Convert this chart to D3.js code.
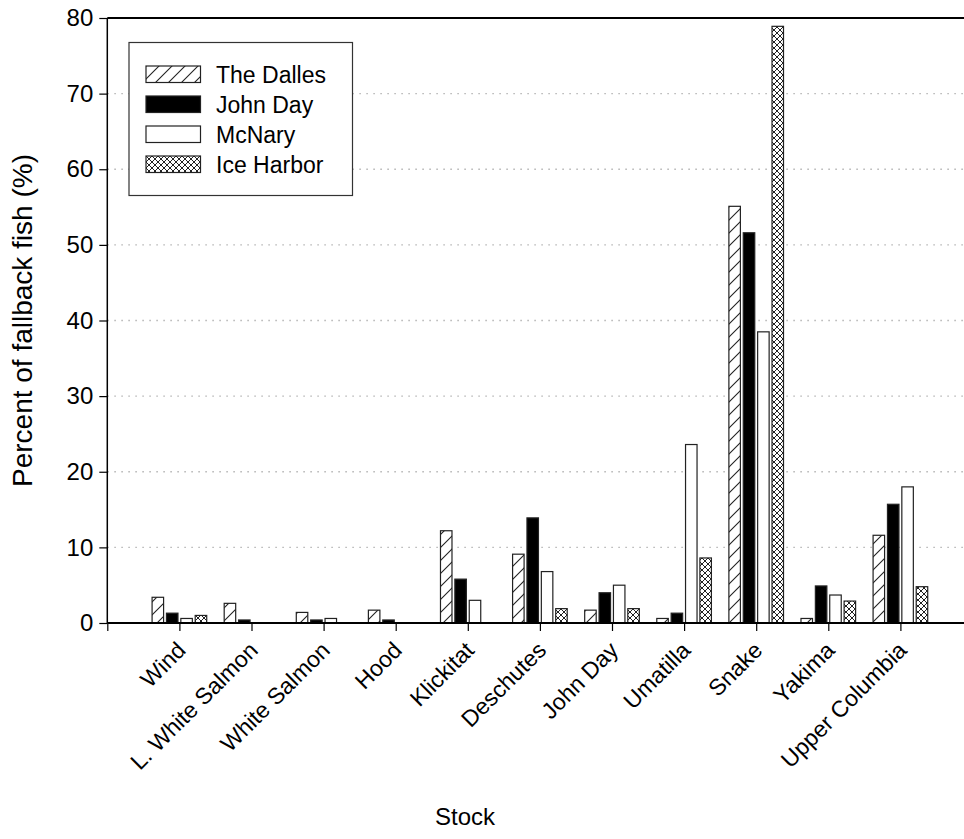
<!DOCTYPE html>
<html>
<head>
<meta charset="utf-8">
<script src="https://cdn.jsdelivr.net/npm/d3@7"></script>
<style>
  html, body { margin: 0; padding: 0; background: #fff; }
  svg { display: block; font-family: "Liberation Sans", Arial, sans-serif; }
</style>
</head>
<body>
<svg id="chart" width="964" height="839"></svg>
<script>
// Fallback percentages by stock, one array per dam
const stocks = ["Wind", "L. White Salmon", "White Salmon", "Hood", "Klickitat", "Deschutes",
                "John Day", "Umatilla", "Snake", "Yakima", "Upper Columbia"];
const dams = ["The Dalles", "John Day", "McNary", "Ice Harbor"];
const theDalles = [3.4, 2.6, 1.4, 1.7, 12.2, 9.1, 1.7, 0.6, 55.1, 0.6, 11.6];
const johnDay   = [1.3, 0.4, 0.4, 0.4, 5.8, 13.9, 4.0, 1.3, 51.6, 4.9, 15.7];
const mcNary    = [0.6, 0, 0.6, 0, 3.0, 6.8, 5.0, 23.6, 38.5, 3.7, 18.0];
const iceHarbor = [1.0, 0, 0, 0, 0, 1.9, 1.9, 8.6, 78.9, 2.9, 4.8];
const yTicks = [0, 10, 20, 30, 40, 50, 60, 70, 80];

const seriesValues = [theDalles, johnDay, mcNary, iceHarbor];
const fills = ["url(#hatch)", "#000", "#fff", "url(#cross)"];

const svg = d3.select("#chart");

// fill patterns
const defs = svg.append("defs");
const hatch = defs.append("pattern").attr("id", "hatch")
  .attr("patternUnits", "userSpaceOnUse").attr("width", 13).attr("height", 13);
hatch.append("rect").attr("width", 13).attr("height", 13).attr("fill", "#fff");
hatch.append("path").attr("d", "M-1,14 L14,-1 M-1,1 L1,-1 M12,14 L14,12")
  .attr("stroke", "#222").attr("stroke-width", 1.1);

const cross = defs.append("pattern").attr("id", "cross")
  .attr("patternUnits", "userSpaceOnUse").attr("width", 6).attr("height", 6);
cross.append("rect").attr("width", 6).attr("height", 6).attr("fill", "#fff");
cross.append("path").attr("d", "M0,0 L6,6 M0,6 L6,0")
  .attr("stroke", "#222").attr("stroke-width", 1);

// scales
const x = d3.scaleLinear().domain([-1, 11]).range([107.3, 972.5]);
const y = d3.scaleLinear().domain([0, 80]).range([623, 18]);
const inner = d3.scaleBand().domain(dams).range([-28.75, 28.75])
  .paddingInner(0.2).paddingOuter(0.1);

// dotted gridlines
svg.append("g").selectAll("line").data(yTicks.filter(t => t > 0 && t < 80)).join("line")
  .attr("x1", x(-1)).attr("x2", 964)
  .attr("y1", d => y(d)).attr("y2", d => y(d))
  .attr("stroke", "#b8b8b8").attr("stroke-width", 1.3)
  .attr("stroke-dasharray", "1.6,5.4");

// top frame line
svg.append("line").attr("x1", x(-1)).attr("x2", 964)
  .attr("y1", y(80)).attr("y2", y(80))
  .attr("stroke", "#000").attr("stroke-width", 2);

// bars
const groups = svg.append("g").selectAll("g").data(seriesValues).join("g")
  .attr("fill", (d, i) => fills[i]);
groups.selectAll("rect")
  .data((vals, si) => vals.map((v, ci) => ({ v, ci, si })).filter(d => d.v > 0))
  .join("rect")
  .attr("x", d => x(d.ci) + inner(dams[d.si]))
  .attr("width", inner.bandwidth())
  .attr("y", d => y(d.v))
  .attr("height", d => y(0) - y(d.v))
  .attr("stroke", "#222").attr("stroke-width", 1.2);

// y axis
const yAxis = svg.append("g").attr("transform", `translate(${x(-1)},0)`)
  .call(d3.axisLeft(y).tickValues(yTicks).tickSize(8).tickPadding(6));
yAxis.select(".domain").attr("stroke-width", 1.5).attr("d", `M0,${y(80)}V${y(0)}`);
yAxis.selectAll(".tick line").attr("stroke-width", 1.2);
yAxis.selectAll(".tick text").attr("font-size", 24).attr("fill", "#000")
  .attr("font-family", "Liberation Sans, Arial, sans-serif");

// x axis
const xAxis = svg.append("g").attr("transform", `translate(0,${y(0)})`)
  .call(d3.axisBottom(x).tickValues(d3.range(-1, 11)).tickSize(8).tickFormat(""));
xAxis.select(".domain").attr("stroke-width", 2).attr("d", `M${x(-1)},0H964`);
xAxis.selectAll(".tick line").attr("stroke-width", 1.2);

// rotated category labels
svg.append("g").selectAll("text").data(stocks).join("text")
  .attr("transform", (d, i) => `translate(${x(i) + 2},${y(0) + 23}) rotate(-45)`)
  .attr("text-anchor", "end")
  .attr("dy", "0.35em")
  .attr("font-size", 23)
  .text(d => d);

// axis titles
svg.append("text")
  .attr("transform", `translate(32,${(y(0) + y(80)) / 2}) rotate(-90)`)
  .attr("text-anchor", "middle")
  .attr("font-size", 28)
  .text("Percent of fallback fish (%)");
svg.append("text")
  .attr("x", 465).attr("y", 825)
  .attr("text-anchor", "middle")
  .attr("font-size", 24)
  .text("Stock");

// legend
const legend = svg.append("g");
legend.append("rect").attr("x", 129).attr("y", 42.5).attr("width", 223.5).attr("height", 153)
  .attr("fill", "#fff").attr("stroke", "#333").attr("stroke-width", 1.2);
const items = legend.selectAll("g.item").data(dams).join("g").attr("class", "item")
  .attr("transform", (d, i) => `translate(146,${66 + i * 30})`);
items.append("rect").attr("width", 54.5).attr("height", 16.5)
  .attr("fill", (d, i) => fills[i]).attr("stroke", "#222").attr("stroke-width", 1.2);
items.append("text").attr("x", 70).attr("y", 16.5)
  .attr("font-size", 23).text(d => d);
</script>
</body>
</html>
